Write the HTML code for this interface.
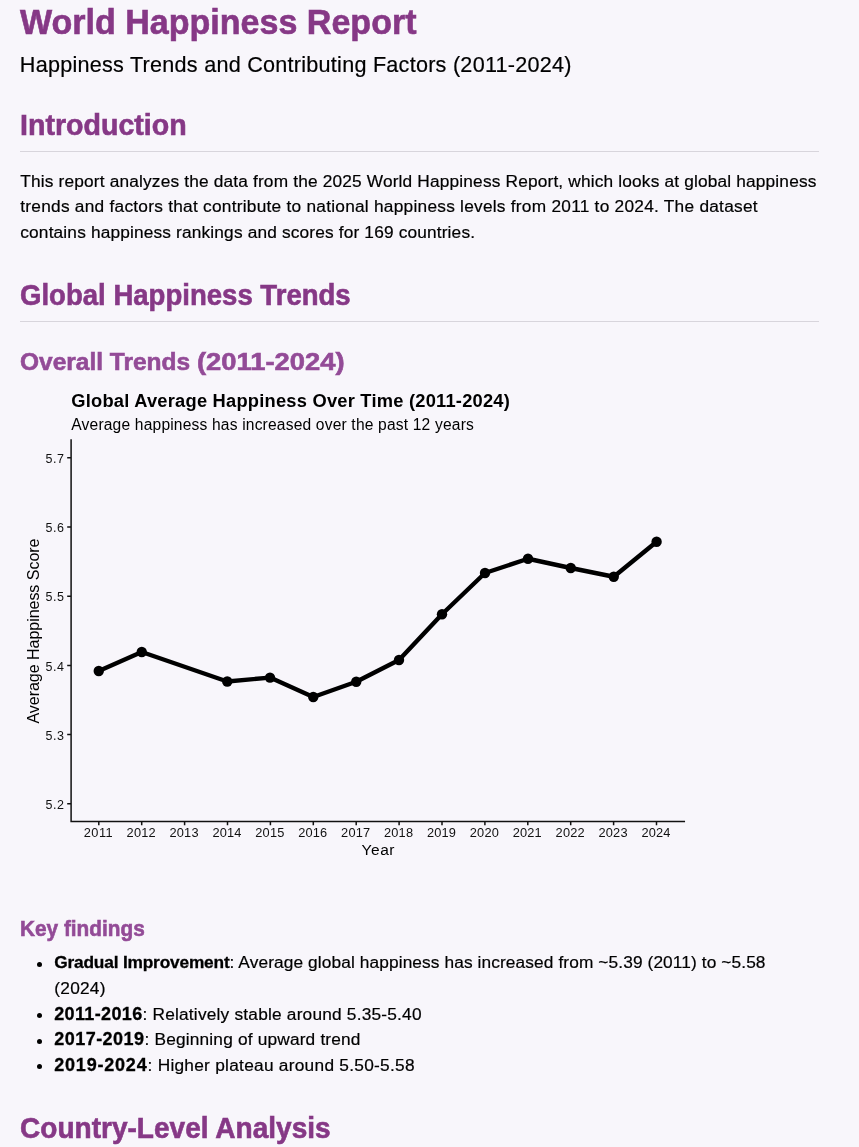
<!DOCTYPE html>
<html lang="en">
<head>
<meta charset="utf-8">
<title>World Happiness Report</title>
<style>
html,body{margin:0;padding:0;}
body{background:#f8f6fb;font-family:"Liberation Sans",Arial,sans-serif;color:#000000;width:859px;height:1147px;overflow:hidden;position:relative;}
h1,h2,h3,h4,.t{position:absolute;white-space:pre;margin:0;padding:0;font-weight:400;}
h1,h2,h3,h4{font-weight:700;-webkit-text-stroke:0.6px;}
h1,h2{color:#863886;}
h3,h4{color:#934b97;}
strong{font-weight:700;-webkit-text-stroke:0.3px;line-height:0;}
h1,h2,h3,h4{transform-origin:0 50%;}
.sx{display:inline-block;transform-origin:0 50%;}
p,ul,li,figure,section{margin:0;padding:0;list-style:none;}
.t{-webkit-text-stroke:0.2px;}
.hr{position:absolute;left:20px;width:799px;height:1px;background:#d8d5dc;}
.b{position:absolute;left:37px;width:5px;height:5px;border-radius:50%;background:#000000;}
.chart{position:absolute;left:20px;top:385px;}
</style>
</head>
<body>
<main>
<h1 id="h1" style="left:20.0px;top:1.24px;font-size:35.1px;line-height:42px;transform:scaleX(0.9703);">World Happiness Report</h1>
<p class="t subtitle" id="sub" style="left:19.8px;top:52.07px;font-size:21.6px;line-height:26px;letter-spacing:0.253px;">Happiness Trends and Contributing Factors (2011-2024)</p>
<section>
<h2 id="h2a" style="left:19.6px;top:108.16px;font-size:28.7px;line-height:34px;transform:scaleX(0.9963);">Introduction</h2>
<div class="hr" style="top:151px"></div>
<p class="para"><span class="t" id="p1" style="left:20.3px;top:170.81px;font-size:17.3px;line-height:21px;letter-spacing:0.167px;">This report analyzes the data from the 2025 World Happiness Report, which looks at global happiness</span><span class="t" id="p2" style="left:20.3px;top:196.31px;font-size:17.3px;line-height:21px;letter-spacing:0.249px;">trends and factors that contribute to national happiness levels from 2011 to 2024. The dataset</span><span class="t" id="p3" style="left:20.3px;top:221.81px;font-size:17.3px;line-height:21px;letter-spacing:0.160px;">contains happiness rankings and scores for 169 countries.</span></p>
</section>
<section>
<h2 id="h2b" style="left:20.1px;top:277.66px;font-size:28.7px;line-height:34px;transform:scaleX(0.9604);">Global Happiness Trends</h2>
<div class="hr" style="top:321px"></div>
<h3 id="h3a" style="left:20.1px;top:347.21px;font-size:24.2px;line-height:29px;"><span class="sx" style="transform:scaleX(1.0121);margin-right:2.12px">Overall Trends </span><span class="sx" style="transform:scaleX(1.1307);margin-right:17.05px">(2011-2024)</span></h3>
<figure><svg class="chart" width="672" height="480" viewBox="20 385 672 480" role="img" aria-label="Global Average Happiness Over Time">
<g font-family="Liberation Sans, Arial, sans-serif" fill="#000">
<text x="71.3" y="407" font-size="18.3" font-weight="700" textLength="438.5" lengthAdjust="spacing">Global Average Happiness Over Time (2011-2024)</text>
<text x="71.3" y="429.7" font-size="15.6" textLength="402.5" lengthAdjust="spacing">Average happiness has increased over the past 12 years</text>
<path d="M71.1 440V821.5H684.3" fill="none" stroke="#111" stroke-width="1.5" stroke-linecap="square"/>
<path d="M67.2 803.80H71M67.2 734.60H71M67.2 665.40H71M67.2 596.20H71M67.2 527.00H71M67.2 457.80H71M98.80 821.5V825.2M141.70 821.5V825.2M184.60 821.5V825.2M227.50 821.5V825.2M270.40 821.5V825.2M313.30 821.5V825.2M356.20 821.5V825.2M399.10 821.5V825.2M442.00 821.5V825.2M484.90 821.5V825.2M527.80 821.5V825.2M570.70 821.5V825.2M613.60 821.5V825.2M656.50 821.5V825.2" fill="none" stroke="#111" stroke-width="1.5"/>
<g font-size="12.5" fill="#111" text-anchor="end">
<text x="63.9" y="809.00" textLength="18.3" lengthAdjust="spacing">5.2</text>
<text x="63.9" y="739.80" textLength="18.3" lengthAdjust="spacing">5.3</text>
<text x="63.9" y="670.60" textLength="18.3" lengthAdjust="spacing">5.4</text>
<text x="63.9" y="601.40" textLength="18.3" lengthAdjust="spacing">5.5</text>
<text x="63.9" y="532.20" textLength="18.3" lengthAdjust="spacing">5.6</text>
<text x="63.9" y="463.00" textLength="18.3" lengthAdjust="spacing">5.7</text>
</g>
<g font-size="12.8" fill="#111" text-anchor="middle">
<text x="98.20" y="837.3" textLength="29" lengthAdjust="spacing">2011</text>
<text x="141.10" y="837.3" textLength="29" lengthAdjust="spacing">2012</text>
<text x="184.00" y="837.3" textLength="29" lengthAdjust="spacing">2013</text>
<text x="226.90" y="837.3" textLength="29" lengthAdjust="spacing">2014</text>
<text x="269.80" y="837.3" textLength="29" lengthAdjust="spacing">2015</text>
<text x="312.70" y="837.3" textLength="29" lengthAdjust="spacing">2016</text>
<text x="355.60" y="837.3" textLength="29" lengthAdjust="spacing">2017</text>
<text x="398.50" y="837.3" textLength="29" lengthAdjust="spacing">2018</text>
<text x="441.40" y="837.3" textLength="29" lengthAdjust="spacing">2019</text>
<text x="484.30" y="837.3" textLength="29" lengthAdjust="spacing">2020</text>
<text x="527.20" y="837.3" textLength="29" lengthAdjust="spacing">2021</text>
<text x="570.10" y="837.3" textLength="29" lengthAdjust="spacing">2022</text>
<text x="613.00" y="837.3" textLength="29" lengthAdjust="spacing">2023</text>
<text x="655.90" y="837.3" textLength="29" lengthAdjust="spacing">2024</text>
</g>
<text x="378" y="855" font-size="15.5" text-anchor="middle" textLength="33" lengthAdjust="spacing">Year</text>
<text transform="translate(38.6 631) rotate(-90)" font-size="16.1" text-anchor="middle" textLength="185" lengthAdjust="spacing">Average Happiness Score</text>
</g>
<path d="M98.75 671L141.75 652L227.25 681.5L270 677.6L313.25 697L356.25 681.75L399 660L442 614.25L485 573L528 558.75L570.75 568L613.75 576.75L656.6 541.75" fill="none" stroke="#000" stroke-width="4.4" stroke-linejoin="round" stroke-linecap="butt"/>
<circle cx="98.75" cy="671" r="5.2" fill="#000"/>
<circle cx="141.75" cy="652" r="5.2" fill="#000"/>
<circle cx="227.25" cy="681.5" r="5.2" fill="#000"/>
<circle cx="270" cy="677.6" r="5.2" fill="#000"/>
<circle cx="313.25" cy="697" r="5.2" fill="#000"/>
<circle cx="356.25" cy="681.75" r="5.2" fill="#000"/>
<circle cx="399" cy="660" r="5.2" fill="#000"/>
<circle cx="442" cy="614.25" r="5.2" fill="#000"/>
<circle cx="485" cy="573" r="5.2" fill="#000"/>
<circle cx="528" cy="558.75" r="5.2" fill="#000"/>
<circle cx="570.75" cy="568" r="5.2" fill="#000"/>
<circle cx="613.75" cy="576.75" r="5.2" fill="#000"/>
<circle cx="656.6" cy="541.75" r="5.2" fill="#000"/>
</svg></figure>
<h4 id="h4a" style="left:20.1px;top:915.78px;font-size:22px;line-height:26px;transform:scaleX(0.9446);">Key findings</h4>
<ul>
<li><i class="b" style="top:962px"></i><span class="t" id="l1" style="left:54.25px;top:952.31px;font-size:17.3px;line-height:21px;"><strong style="letter-spacing:-0.178px">Gradual Improvement</strong><span style="letter-spacing:0.110px">: Average global happiness has increased from ~5.39 (2011) to ~5.58</span></span><span class="t" id="l1b" style="left:54.25px;top:978.31px;font-size:17.3px;line-height:21px;letter-spacing:0.256px;">(2024)</span></li>
<li><i class="b" style="top:1013px"></i><span class="t" id="l2" style="left:54.25px;top:1003.81px;font-size:17.3px;line-height:21px;"><strong style="letter-spacing:0.351px;font-size:18.0px">2011-2016</strong><span style="letter-spacing:0.204px">: Relatively stable around 5.35-5.40</span></span></li>
<li><i class="b" style="top:1038.5px"></i><span class="t" id="l3" style="left:54.25px;top:1029.31px;font-size:17.3px;line-height:21px;"><strong style="letter-spacing:0.462px;font-size:18.0px">2017-2019</strong><span style="letter-spacing:0.178px">: Beginning of upward trend</span></span></li>
<li><i class="b" style="top:1064px"></i><span class="t" id="l4" style="left:54.25px;top:1054.81px;font-size:17.3px;line-height:21px;"><strong style="letter-spacing:0.795px;font-size:18.0px">2019-2024</strong><span style="letter-spacing:0.267px">: Higher plateau around 5.50-5.58</span></span></li>
</ul>
</section>
<section>
<h2 id="h2c" style="left:20.1px;top:1111.36px;font-size:28.7px;line-height:34px;transform:scaleX(0.9777);">Country-Level Analysis</h2>
</section>
</main>
</body>
</html>
